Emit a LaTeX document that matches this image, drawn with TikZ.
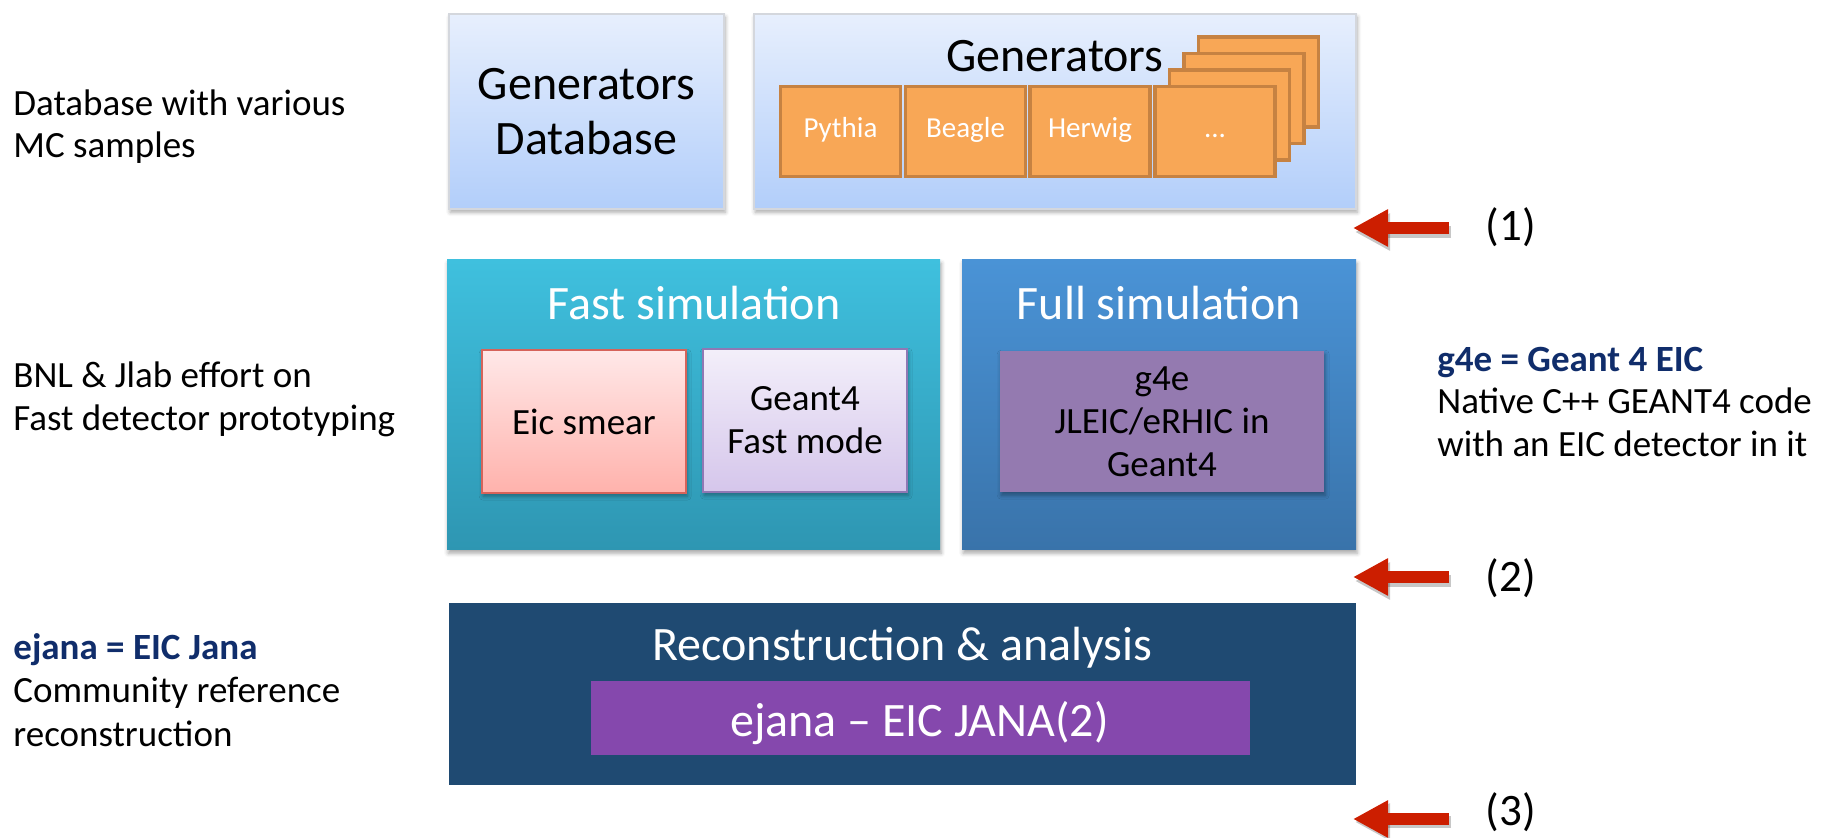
\documentclass[tikz,border=0pt]{standalone}
\usepackage{fontspec}
\setmainfont{Carlito}
\usetikzlibrary{arrows.meta,shadows.blur}
\definecolor{lbTop}{RGB}{231,239,253}
\definecolor{lbBot}{RGB}{178,206,250}
\definecolor{lbDraw}{RGB}{212,215,221}
\definecolor{fastTop}{RGB}{63,192,222}
\definecolor{fastBot}{RGB}{46,150,178}
\definecolor{fullTop}{RGB}{74,147,214}
\definecolor{fullBot}{RGB}{57,115,170}
\definecolor{eicTop}{RGB}{255,232,232}
\definecolor{eicBot}{RGB}{255,178,172}
\definecolor{eicDraw}{RGB}{214,99,90}
\definecolor{gfTop}{RGB}{243,239,250}
\definecolor{gfBot}{RGB}{213,198,235}
\definecolor{gfDraw}{RGB}{143,120,180}
\definecolor{gfeFill}{RGB}{148,122,176}
\definecolor{recoFill}{RGB}{31,74,114}
\definecolor{ejanaFill}{RGB}{133,72,173}
\definecolor{orFill}{RGB}{248,167,86}
\definecolor{orDraw}{RGB}{198,130,66}
\definecolor{arrRed}{RGB}{204,30,0}
\definecolor{navyText}{RGB}{16,45,107}
\begin{document}
\begin{tikzpicture}[x=0.5pt,y=-0.5pt,
  softshadow/.style={blur shadow={shadow xshift=0.6pt,shadow yshift=-1.6pt,shadow blur radius=2pt,shadow opacity=35}},
  bigfont/.style={font=\fontsize{24}{27.25}\selectfont},
  medfont/.style={font=\fontsize{18.5}{21.5}\selectfont},
  lightbox/.style={draw=lbDraw,line width=1pt,top color=lbTop,bottom color=lbBot,softshadow,inner sep=0pt,bigfont,align=center},
  genbox/.style={draw=orDraw,line width=1.75pt,fill=orFill,minimum width=60pt,minimum height=45pt,inner sep=0pt,text=white,font=\fontsize{14.5}{16}\selectfont,text height=1.5ex,text depth=.25ex},
  innerbox/.style={inner sep=0pt,medfont,align=center,softshadow},
  sidetext/.style={anchor=base west,inner sep=0pt,medfont},
  sidebold/.style={sidetext,font=\fontsize{18.5}{21.5}\selectfont\bfseries,text=navyText},
  numtext/.style={inner sep=0pt,font=\fontsize{22.5}{26}\selectfont},
  redarrow/.style={line width=6pt,draw=arrRed,-{Triangle[length=17.5pt,width=17.5pt]}},
  arrshadow/.style={line width=6pt,draw=black,opacity=0.22,-{Triangle[length=17.5pt,width=17.5pt]}}
]
\useasboundingbox (0,0) rectangle (1821,838);

% ---------- row 1 ----------
\node[lightbox,minimum width=137.5pt,minimum height=97.5pt] (gdb) at (586.5,111.5) {Generators\\Database};
\node[lightbox,minimum width=301pt,minimum height=97.5pt] (gen) at (1055,111.5) {};
\node[anchor=base,inner sep=0pt,bigfont] (gentitle) at (1055,72) {Generators};

\node[genbox] (back3) at (1258.5,82) {};
\node[genbox] (back2) at (1244,98.5) {};
\node[genbox] (back1) at (1229.5,115) {};
\node[genbox] (pythia) at (840.5,131.5) {Pythia};
\node[genbox] (beagle) at (965.5,131.5) {Beagle};
\node[genbox] (herwig) at (1090,131.5) {Herwig};
\node[genbox] (dots) at (1215,131.5) {...};

% ---------- row 2 ----------
\node[top color=fastTop,bottom color=fastBot,softshadow,minimum width=246.5pt,minimum height=145pt,inner sep=0pt] (fast) at (693.5,405) {};
\node[anchor=base,inner sep=0pt,bigfont,text=white] (fasttitle) at (694,320) {Fast simulation};
\node[top color=fullTop,bottom color=fullBot,softshadow,minimum width=197pt,minimum height=145pt,inner sep=0pt] (full) at (1159,405) {};
\node[anchor=base,inner sep=0pt,bigfont,text=white] (fulltitle) at (1159,320) {Full simulation};

\node[innerbox,draw=eicDraw,line width=0.75pt,top color=eicTop,bottom color=eicBot,minimum width=102pt,minimum height=71.5pt] (eic) at (584,421.5) {Eic smear};
\node[innerbox,draw=gfDraw,line width=0.75pt,top color=gfTop,bottom color=gfBot,minimum width=102pt,minimum height=71.5pt] (gfast) at (805,420.5) {Geant4\\Fast mode};
\node[innerbox,fill=gfeFill,minimum width=162pt,minimum height=70.5pt] (gfe) at (1162,421.5) {g4e\\JLEIC/eRHIC in\\Geant4};

% ---------- row 3 ----------
\node[fill=recoFill,minimum width=453.5pt,minimum height=91pt,inner sep=0pt] (reco) at (902.5,694) {};
\node[anchor=base,inner sep=0pt,bigfont,text=white] (recotitle) at (902.5,661) {Reconstruction \& analysis};
\node[fill=ejanaFill,minimum width=329.5pt,minimum height=37pt,inner sep=0pt] (ejana) at (920.5,718) {};
\node[anchor=base,inner sep=0pt,bigfont,text=white] (ejanatext) at (919.5,737) {ejana – EIC JANA(2)};

% ---------- arrows ----------
\coordinate (a1s) at (1449,228);  \coordinate (a1t) at (1353,228);
\coordinate (a2s) at (1449,577);  \coordinate (a2t) at (1353,577);
\coordinate (a3s) at (1449,819);  \coordinate (a3t) at (1353,819);
\coordinate (a1ss) at (1451,232); \coordinate (a1ts) at (1355,232);
\coordinate (a2ss) at (1451,581); \coordinate (a2ts) at (1355,581);
\coordinate (a3ss) at (1451,822); \coordinate (a3ts) at (1355,822);
\draw[arrshadow] (a1ss) -- (a1ts);
\draw[arrshadow] (a2ss) -- (a2ts);
\draw[arrshadow] (a3ss) -- (a3ts);
\draw[redarrow] (a1s) -- (a1t);
\draw[redarrow] (a2s) -- (a2t);
\draw[redarrow] (a3s) -- (a3t);
\node[numtext] (n1) at (1511,227) {(1)};
\node[numtext] (n2) at (1511,578) {(2)};
\node[numtext] (n3) at (1511,812) {(3)};

% ---------- side texts ----------
\node[sidetext] (l1a) at (13,116) {Database with various};
\node[sidetext] (l1b) at (13,158) {MC samples};
\node[sidetext] (l2a) at (13,388) {BNL \& Jlab effort on};
\node[sidetext] (l2b) at (13,430.5) {Fast detector prototyping};
\node[sidebold] (l3a) at (13,660) {ejana = EIC Jana};
\node[sidetext] (l3b) at (13,703) {Community reference};
\node[sidetext] (l3c) at (13,747) {reconstruction};

\node[sidebold] (r1) at (1437,372) {g4e = Geant 4 EIC};
\node[sidetext] (r2) at (1437,414) {Native C++ GEANT4 code};
\node[sidetext] (r3) at (1437,457) {with an EIC detector in it};
\end{tikzpicture}
\end{document}
